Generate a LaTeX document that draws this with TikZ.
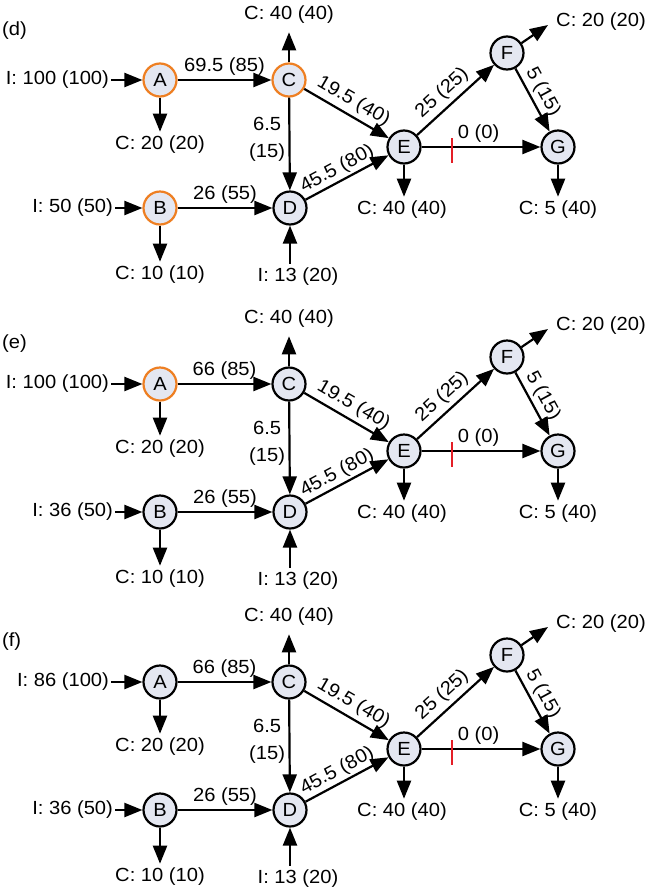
\documentclass[tikz,border=0pt]{standalone}
\usepackage{fontspec}
\setmainfont[FakeStretch=1.06]{Liberation Sans}
\usetikzlibrary{arrows.meta}

\definecolor{sitefill}{HTML}{E4E7F1}
\definecolor{hotrim}{HTML}{EE7F22}
\definecolor{cutred}{HTML}{E41E26}

\begin{document}
\begin{tikzpicture}[x=1pt, y=-1pt, line width=2.2pt,
  font=\fontsize{19}{22}\selectfont,
  site/.style={circle, draw=black, fill=sitefill, minimum size=33pt, inner sep=0pt},
  hot/.style={site, draw=hotrim},
  cold/.style={site},
  flow/.style={-{Triangle[length=18pt, width=14pt]}},
  cut/.style={cutred, line width=2pt}]
  \useasboundingbox (0,0) rectangle (648,892);

  % three states of the same network: (d), (e), (f)
  \foreach \dy/\tag/\ty/\ia/\ib/\ac/\sa/\sb/\sc in {
      0/d/31/100/50/69.5/hot/hot/hot,
      304/e/40/100/36/66/hot/cold/cold,
      602/f/40/86/36/66/cold/cold/cold}{
  \begin{scope}[shift={(0,\dy)}]
    \node[anchor=west, inner sep=1pt] (tag) at (0,\ty) {(\tag)};

    % sites
    \node[\sa] (A) at (160,80) {A};
    \node[\sc] (C) at (289,80) {C};
    \node[\sb] (B) at (160,208) {B};
    \node[cold] (D) at (290,208) {D};
    \node[cold] (E) at (404,147) {E};
    \node[cold] (F) at (507,53) {F};
    \node[cold] (G) at (558,147) {G};

    % inputs and consumers
    \node[anchor=east, inner sep=1pt] (iA) at (111,80) {I: \ia{} (100)};
    \node (cA) at (160,145) {C: 20 (20)};
    \node (cC) at (289,15) {C: 40 (40)};
    \node[anchor=east, inner sep=1pt] (iB) at (115,208) {I: \ib{} (50)};
    \node (cB) at (160,275) {C: 10 (10)};
    \node (iD) at (298,277) {I: 13 (20)};
    \node (cE) at (402,210) {C: 40 (40)};
    \node (cG) at (558,210) {C: 5 (40)};
    \node (cF) at (601,22) {C: 20 (20)};
    \coordinate (fF) at (548,25);

    % stubs
    \draw[flow] (iA) -- (A);
    \draw[flow] (A) -- (A |- cA.north);
    \draw[flow, shorten >=4pt] (C) -- (C |- cC.south);
    \draw[flow] (iB) -- (B);
    \draw[flow] (B) -- (B |- cB.north);
    \draw[flow] (D |- iD.north) -- (D);
    \draw[flow] (E) -- (E |- cE.north);
    \draw[flow] (G) -- (G |- cG.north);
    \draw[flow] (F) -- (fF);

    % links
    \draw[flow] (A) -- node[above] {\ac{} (85)} (C);
    \draw[flow] (C) -- node[left, pos=0.45, align=center,
      font=\fontsize{19}{27}\selectfont] {6.5\\(15)} (D);
    \draw[flow] (B) -- node[above] {26 (55)} (D);
    \draw[flow] (C) -- node[sloped, above, inner sep=4pt] {19.5 (40)} (E);
    \draw[flow] (D) -- node[sloped, above, pos=0.45, inner sep=2pt] {45.5 (80)} (E);
    \draw[flow] (E) -- node[sloped, above, pos=0.45, inner sep=4pt] {25 (25)} (F);
    \draw[flow] (F) -- node[sloped, above, pos=0.47, inner sep=3pt] {5 (15)} (G);
    \draw[flow] (E) -- node[above, pos=0.48] {0 (0)} coordinate[pos=0.26] (cutE) (G);

    % closed link
    \draw[cut] ([yshift=9pt]cutE) -- ([yshift=-16pt]cutE);
  \end{scope}
  }
\end{tikzpicture}
\end{document}
